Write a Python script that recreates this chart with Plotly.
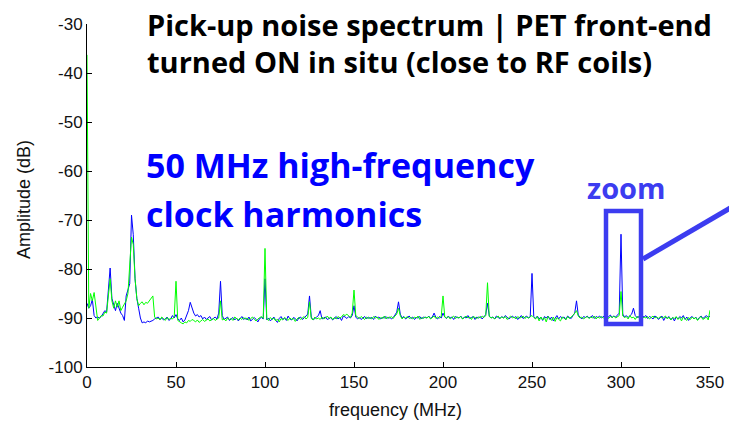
import numpy as np
import plotly.graph_objects as go

# frequency axis (MHz), 1 MHz step
freq = list(range(0, 351))

# blue series (dB)
blue = [
    -87.0, -88.0, -87.5, -86.2, -89.5, -90.0, -89.8, -90.0, -89.7, -89.0,
    -88.5, -88.8, -84.0, -79.8, -86.0, -87.5, -88.5, -87.0, -88.2, -89.0,
    -89.5, -90.5, -85.5, -84.0, -83.0, -69.0, -73.0, -82.0, -86.0, -88.0,
    -90.0, -91.0, -90.8, -91.0, -90.6, -90.8, -90.7, -90.5, -90.2, -90.0,
    -89.8, -90.3, -90.0, -90.4, -90.2, -89.8, -90.5, -90.2, -89.5, -90.0,
    -89.3, -90.2, -90.5, -90.0, -90.8, -90.4, -89.5, -88.5, -86.8, -88.0,
    -89.0, -89.6, -89.3, -89.8, -89.5, -90.2, -89.8, -90.3, -90.0, -89.7,
    -90.4, -90.0, -89.8, -90.2, -89.0, -82.5, -89.5, -90.3, -90.1, -89.8,
    -90.5, -90.2, -89.9, -90.4, -90.0, -90.6, -90.1, -89.7, -90.3, -90.0,
    -90.4, -89.8, -90.6, -90.2, -89.9, -90.3, -90.8, -90.1, -89.9, -90.2,
    -82.0, -90.4, -90.0, -90.6, -90.2, -89.8, -90.5, -90.9, -90.1, -89.7,
    -90.3, -90.0, -90.5, -89.6, -90.2, -90.4, -89.9, -90.1, -90.6, -90.0,
    -89.8, -90.3, -90.0, -89.5, -89.2, -85.5, -89.8, -90.4, -90.0, -89.8,
    -89.5, -88.5, -90.2, -90.0, -89.8, -90.3, -90.1, -89.9, -90.4, -90.0,
    -89.7, -90.2, -89.9, -90.5, -89.6, -89.8, -90.1, -89.7, -90.0, -89.5,
    -87.5, -89.8, -90.2, -89.9, -90.3, -90.0, -89.7, -90.2, -89.8, -90.1,
    -89.9, -90.3, -89.6, -90.0, -89.8, -90.2, -89.9, -90.0, -89.7, -90.1,
    -89.8, -90.2, -89.9, -89.4, -88.8, -86.7, -89.2, -90.0, -89.7, -90.2,
    -89.9, -89.6, -90.1, -89.8, -90.3, -89.9, -90.0, -89.7, -90.2, -89.8,
    -89.9, -90.0, -89.6, -90.1, -89.8, -89.0, -89.9, -90.2, -89.7, -90.0,
    -89.0, -89.8, -90.1, -89.6, -90.0, -89.8, -90.3, -89.7, -89.9, -90.0,
    -89.6, -90.2, -89.8, -90.0, -89.5, -90.1, -89.9, -89.7, -90.3, -89.8,
    -90.0, -89.7, -90.2, -89.8, -89.3, -87.0, -89.6, -90.0, -89.8, -90.2,
    -89.6, -89.9, -90.1, -89.7, -90.0, -89.5, -89.8, -90.2, -89.9, -89.6,
    -90.0, -89.7, -90.3, -89.8, -89.5, -90.1, -89.9, -89.6, -90.0, -89.8,
    -80.9, -89.7, -90.1, -89.6, -90.2, -89.8, -90.5, -89.7, -90.0, -89.6,
    -90.3, -89.8, -90.6, -89.9, -89.5, -90.2, -89.7, -90.0, -89.8, -90.3,
    -89.6, -89.9, -90.1, -89.5, -89.0, -86.5, -89.4, -89.8, -90.2, -89.7,
    -89.9, -89.6, -90.0, -89.8, -89.5, -90.1, -89.7, -89.9, -89.6, -90.0,
    -89.8, -89.5, -90.1, -89.7, -89.4, -89.9, -89.6, -89.8, -89.3, -89.0,
    -72.9, -89.2, -89.8, -89.5, -89.9, -89.6, -89.2, -88.0, -89.5, -89.9,
    -89.7, -90.0, -89.6, -89.8, -89.5, -90.1, -89.7, -89.9, -90.2, -89.6,
    -89.8, -90.3, -89.9, -89.6, -90.5, -89.8, -90.0, -89.7, -90.4, -89.9,
    -90.6, -89.8, -90.2, -89.7, -90.0, -89.5, -90.3, -89.8, -90.5, -89.9,
    -89.7, -90.2, -89.8, -90.4, -89.9, -89.6, -90.1, -89.8, -89.5, -89.9,
    -89.6,
]

# green series (dB)
green = [
    -36.3, -88.0, -85.0, -86.5, -84.8, -88.0, -90.5, -90.0, -89.5, -89.6,
    -88.8, -89.0, -86.0, -82.0, -86.5, -88.0, -86.5, -87.8, -86.5, -88.5,
    -87.8, -87.0, -86.5, -85.0, -80.0, -73.5, -75.0, -82.0, -86.0, -87.5,
    -87.0, -86.7, -87.3, -86.8, -87.0, -86.5, -86.0, -85.5, -89.8, -90.2,
    -90.0, -90.4, -89.8, -90.2, -90.5, -89.9, -90.3, -90.1, -90.2, -89.8,
    -82.5, -90.5, -90.8, -91.0, -91.2, -90.8, -91.0, -90.5, -90.7, -90.3,
    -90.5, -90.8, -90.4, -90.9, -90.6, -90.3, -90.7, -90.5, -90.2, -90.6,
    -90.4, -90.1, -90.5, -90.3, -90.0, -86.5, -90.4, -90.2, -90.6, -90.0,
    -90.3, -90.1, -90.5, -89.8, -90.2, -90.4, -90.0, -90.3, -89.9, -90.2,
    -90.0, -90.5, -90.1, -89.8, -90.3, -90.6, -90.2, -90.0, -89.7, -90.1,
    -75.8, -90.2, -90.5, -89.9, -90.3, -90.0, -90.6, -90.2, -90.8, -90.1,
    -90.4, -89.9, -90.2, -90.5, -90.0, -90.3, -90.1, -90.7, -90.2, -89.9,
    -90.3, -90.0, -89.7, -90.2, -89.9, -86.7, -90.1, -90.4, -89.8, -90.2,
    -90.0, -90.3, -89.8, -90.2, -90.0, -89.6, -90.1, -89.8, -90.3, -89.9,
    -90.2, -89.7, -90.0, -89.8, -89.3, -89.5, -89.2, -89.6, -89.9, -89.0,
    -84.3, -89.5, -89.8, -90.1, -89.7, -90.0, -90.3, -89.8, -90.1, -89.9,
    -90.2, -89.7, -90.0, -89.8, -90.3, -89.9, -90.1, -89.6, -90.2, -89.8,
    -90.0, -89.7, -90.1, -89.6, -89.2, -88.0, -89.5, -90.2, -89.8, -90.0,
    -89.7, -90.1, -89.9, -90.2, -89.8, -90.0, -89.6, -90.3, -89.9, -90.1,
    -89.8, -90.0, -89.7, -90.2, -89.9, -89.6, -90.1, -89.8, -90.0, -89.7,
    -85.5, -89.8, -90.0, -89.7, -90.2, -89.9, -89.6, -90.1, -89.8, -90.0,
    -89.7, -90.2, -89.9, -89.6, -90.0, -89.8, -90.3, -89.7, -89.9, -90.1,
    -89.8, -90.0, -89.6, -89.9, -89.5, -82.8, -89.7, -90.0, -89.8, -90.2,
    -89.9, -89.6, -90.1, -89.8, -90.0, -89.7, -90.3, -89.9, -89.6, -90.0,
    -89.8, -90.2, -89.7, -90.0, -89.9, -89.6, -90.1, -89.8, -90.0, -89.7,
    -89.5, -89.9, -90.2, -89.7, -90.6, -89.8, -90.4, -89.9, -90.8, -89.7,
    -90.1, -90.5, -89.8, -90.7, -89.9, -90.2, -90.6, -89.8, -90.0, -90.4,
    -89.7, -90.1, -89.8, -89.5, -89.0, -88.5, -89.6, -90.0, -89.8, -90.2,
    -89.9, -89.7, -90.1, -89.8, -90.0, -89.6, -90.2, -89.8, -90.0, -89.7,
    -90.0, -89.8, -89.5, -90.1, -89.7, -89.9, -89.6, -90.0, -89.8, -89.5,
    -84.6, -89.6, -89.9, -89.7, -90.2, -89.5, -90.0, -89.8, -90.3, -89.7,
    -89.9, -89.6, -90.1, -89.8, -90.0, -89.7, -90.2, -89.9, -89.6, -90.0,
    -89.8, -90.1, -89.7, -90.0, -89.9, -89.6, -90.2, -89.8, -90.4, -89.9,
    -90.1, -89.7, -90.3, -89.9, -90.6, -89.8, -90.2, -90.5, -89.9, -90.3,
    -89.8, -90.2, -89.9, -90.5, -90.0, -89.7, -90.3, -90.1, -89.8, -90.4,
    -88.4,
]

x_ticks = [0, 50, 100, 150, 200, 250, 300, 350]
x_labels = ["0", "50", "100", "150", "200", "250", "300", "350"]
y_ticks = [-100, -90, -80, -70, -60, -50, -40, -30]
y_labels = ["-100", "-90", "-80", "-70", "-60", "-50", "-40", "-30"]

W, H = 729, 421
L, R, T, B = 87, 19, 24, 54
pw, ph = W - L - R, H - T - B

def px(x):
    return (x - L) / pw

def py(y):
    return (H - B - y) / ph

fig = go.Figure()
fig.add_trace(go.Scatter(x=freq, y=blue, mode="lines",
                         line=dict(color="#0000ff", width=1), showlegend=False))
fig.add_trace(go.Scatter(x=freq, y=green, mode="lines",
                         line=dict(color="#00ff00", width=1), showlegend=False))

sans = "Liberation Sans, Arial, sans-serif"
axis_font = dict(family=sans, size=17, color="#111")
fig.update_xaxes(range=[0, 350], tickvals=x_ticks, ticktext=x_labels, ticks="inside", ticklen=5,
                 tickcolor="black", showline=True, linecolor="black", linewidth=1,
                 showgrid=False, zeroline=False, tickfont=axis_font, automargin=False)
fig.update_yaxes(range=[-100, -30], tickvals=y_ticks, ticktext=y_labels, ticks="inside", ticklen=5,
                 tickcolor="black", showline=True, linecolor="black", linewidth=1,
                 showgrid=False, zeroline=False, tickfont=axis_font, automargin=False)

bold_font = "Open Sans, sans-serif"
title_font = dict(family=bold_font, size=29, color="black")
blue_font = dict(family=bold_font, size=34, color="#0000ff")
zoom_color = "#3c3cf0"

annotations = [
    dict(text="<b>Pick-up noise spectrum | PET front-end</b>", x=px(146), y=py(24),
         xanchor="left", yanchor="middle", font=title_font),
    dict(text="<b>turned ON in situ (close to RF coils)</b>", x=px(146), y=py(62),
         xanchor="left", yanchor="middle", font=title_font),
    dict(text="<b>50 MHz high-frequency</b>", x=px(145), y=py(165),
         xanchor="left", yanchor="middle", font=blue_font),
    dict(text="<b>clock harmonics</b>", x=px(145), y=py(214),
         xanchor="left", yanchor="middle", font=blue_font),
    dict(text="<b>zoom</b>", x=px(626), y=py(187),
         xanchor="center", yanchor="middle", font=dict(family=bold_font, size=29, color=zoom_color)),
    dict(text="frequency (MHz)", x=px(395), y=py(410), xanchor="center", yanchor="middle",
         font=dict(family=sans, size=18, color="#111")),
    dict(text="Amplitude (dB)", x=px(24), y=py(200), xanchor="center", yanchor="middle",
         textangle=-90, font=dict(family=sans, size=18, color="#111")),
]
for a in annotations:
    a.update(xref="paper", yref="paper", showarrow=False, borderpad=0)

shapes = [
    dict(type="rect", xref="paper", yref="paper", x0=px(606), x1=px(641), y0=py(324), y1=py(211),
         line=dict(color=zoom_color, width=4.5)),
    dict(type="line", xref="paper", yref="paper", x0=px(643), y0=py(259), x1=px(732), y1=py(207),
         line=dict(color=zoom_color, width=5)),
]

fig.update_layout(width=W, height=H, margin=dict(l=L, r=R, t=T, b=B),
                  paper_bgcolor="white", plot_bgcolor="white",
                  annotations=annotations, shapes=shapes)

fig.write_html("out.html")
